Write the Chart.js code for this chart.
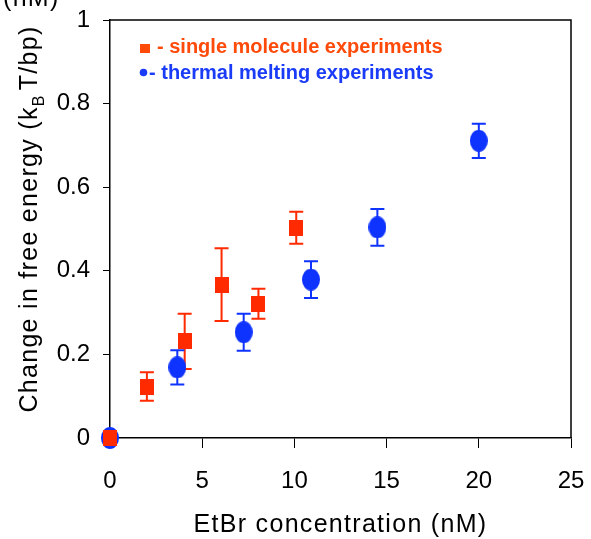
<!DOCTYPE html>
<html>
<head>
<meta charset="utf-8">
<script src="https://cdn.jsdelivr.net/npm/chart.js@4/dist/chart.umd.min.js"></script>
<style>
  html, body { margin: 0; padding: 0; background: #fff; }
  canvas { display: block; }
</style>
</head>
<body>
<canvas id="c" width="591" height="539"></canvas>
<script>
// ---- data ----
const singleX   = [0, 2.0, 4.05, 6.05, 8.05, 10.1];
const singleY   = [0, 0.123, 0.231, 0.367, 0.321, 0.503];
const singleErr = [0, 0.034, 0.066, 0.087, 0.036, 0.038];

const thermalX   = [0, 3.65, 7.25, 10.9, 14.5, 20.0];
const thermalY   = [0, 0.169, 0.253, 0.379, 0.504, 0.711];
const thermalErr = [0, 0.041, 0.044, 0.044, 0.044, 0.041];

const xTicks = [0, 5, 10, 15, 20, 25];
const yTicks = [0, 0.2, 0.4, 0.6, 0.8, 1];

const legendLabels = ['- single molecule experiments', '- thermal melting experiments'];
const xTitle = 'EtBr concentration (nM)';
const yTitleParts = ['Change in free energy (k', 'B', 'T/bp)'];

const RED = '#ff2a00';
const BLUE = '#0f33ff';

function markerImg(w, h, color, shape) {
  const c = document.createElement('canvas');
  c.width = w; c.height = h;
  const g = c.getContext('2d');
  g.fillStyle = color;
  if (shape === 'ellipse') {
    g.beginPath();
    g.ellipse(w / 2, h / 2, w / 2, h / 2, 0, 0, Math.PI * 2);
    g.fill();
  } else {
    g.fillRect(0, 0, w, h);
  }
  return c;
}

const toPts = (xs, ys) => xs.map((x, i) => ({ x: x, y: ys[i] }));
const errs = [singleErr, thermalErr];

const errorBarPlugin = {
  id: 'errorBars',
  beforeDatasetsDraw(chart) {
    const ctx = chart.ctx;
    const xs = chart.scales.x, ys = chart.scales.y;
    chart.data.datasets.forEach((ds, di) => {
      const e = errs[di];
      ctx.save();
      ctx.strokeStyle = ds.borderColor;
      ctx.lineWidth = 2;
      ds.data.forEach((p, i) => {
        if (!e[i]) return;
        const px = xs.getPixelForValue(p.x);
        const yt = ys.getPixelForValue(p.y + e[i]);
        const yb = ys.getPixelForValue(p.y - e[i]);
        const cw = 7;
        ctx.beginPath();
        ctx.moveTo(px, yt); ctx.lineTo(px, yb);
        ctx.moveTo(px - cw, yt); ctx.lineTo(px + cw, yt);
        ctx.moveTo(px - cw, yb); ctx.lineTo(px + cw, yb);
        ctx.stroke();
      });
      ctx.restore();
    });
  }
};

const boxPlugin = {
  id: 'box',
  beforeDatasetsDraw(chart) {
    const a = chart.chartArea, ctx = chart.ctx;
    ctx.save();
    ctx.strokeStyle = '#000';
    ctx.lineWidth = 1.5;
    ctx.beginPath();
    ctx.moveTo(a.left, a.top); ctx.lineTo(a.right, a.top); ctx.lineTo(a.right, a.bottom);
    ctx.stroke();
    ctx.restore();
  }
};

const textPlugin = {
  id: 'texts',
  afterDraw(chart) {
    const ctx = chart.ctx, a = chart.chartArea;
    ctx.save();
    ctx.fillStyle = '#000';
    ctx.textBaseline = 'alphabetic';
    // x title
    ctx.font = '25px "Liberation Sans", Arial, sans-serif';
    ctx.letterSpacing = '1.3px';
    ctx.textAlign = 'center';
    ctx.fillText(xTitle, (a.left + a.right) / 2, 532);
    // leftover "(nM)" at top-left
    ctx.textAlign = 'left';
    ctx.fillText('(nM)', 3, 6);
    // y title (rotated, with subscript)
    ctx.save();
    ctx.translate(37, 219);
    ctx.rotate(-Math.PI / 2);
    const big = '25px "Liberation Sans", Arial, sans-serif';
    const small = '16px "Liberation Sans", Arial, sans-serif';
    ctx.font = big;
    const w1 = ctx.measureText(yTitleParts[0]).width;
    const w3 = ctx.measureText(yTitleParts[2]).width;
    ctx.font = small;
    const w2 = ctx.measureText(yTitleParts[1]).width;
    let x0 = -(w1 + w2 + w3 + 4) / 2;
    ctx.font = big;
    ctx.fillText(yTitleParts[0], x0, 0);
    x0 += w1;
    ctx.font = small;
    ctx.fillText(yTitleParts[1], x0, 7);
    x0 += w2 + 4;
    ctx.font = big;
    ctx.fillText(yTitleParts[2], x0, 0);
    ctx.restore();
    // legend
    ctx.letterSpacing = '0px';
    ctx.font = 'bold 20px "Liberation Sans", Arial, sans-serif';
    ctx.fillStyle = '#ff4a0a';
    ctx.fillRect(140, 44, 10, 9);
    ctx.fillText(legendLabels[0], 157, 53);
    ctx.fillStyle = '#1a3cf8';
    ctx.beginPath();
    ctx.arc(143.5, 72.5, 3.8, 0, Math.PI * 2);
    ctx.fill();
    ctx.fillText(legendLabels[1], 149, 79);
    ctx.restore();
  }
};

const tickFont = { family: '"Liberation Sans", Arial, sans-serif', size: 24 };

new Chart(document.getElementById('c'), {
  type: 'scatter',
  data: {
    datasets: [
      {
        label: 'single molecule experiments',
        data: toPts(singleX, singleY),
        pointStyle: markerImg(14, 16, RED, 'rect'),
        backgroundColor: RED,
        borderColor: RED,
        clip: false
      },
      {
        label: 'thermal melting experiments',
        data: toPts(thermalX, thermalY),
        pointStyle: markerImg(18, 22, BLUE, 'ellipse'),
        backgroundColor: BLUE,
        borderColor: BLUE,
        clip: false
      }
    ]
  },
  options: {
    responsive: false,
    devicePixelRatio: 1,
    animation: false,
    events: [],
    layout: { padding: { top: 20, right: 20, left: 0, bottom: 0 } },
    plugins: { legend: { display: false }, tooltip: { enabled: false } },
    scales: {
      x: {
        type: 'linear',
        min: 0, max: 25,
        afterBuildTicks: s => { s.ticks = xTicks.map(v => ({ value: v })); },
        afterFit: s => { s.height = 101; s.paddingLeft = 0; s.paddingRight = 0; },
        ticks: { font: tickFont, color: '#000', padding: 19, maxRotation: 0 },
        grid: { drawOnChartArea: false, tickLength: 10, color: '#000', tickWidth: 1 },
        border: { color: '#000', width: 1.5 }
      },
      y: {
        type: 'linear',
        min: 0, max: 1,
        afterBuildTicks: s => { s.ticks = yTicks.map(v => ({ value: v })); },
        afterFit: s => { s.width = 110; s.paddingTop = 0; s.paddingBottom = 0; },
        ticks: { font: tickFont, color: '#000', padding: 13, callback: v => String(v) },
        grid: { drawOnChartArea: false, tickLength: 7, color: '#000', tickWidth: 1 },
        border: { color: '#000', width: 1.5 }
      }
    }
  },
  plugins: [errorBarPlugin, boxPlugin, textPlugin]
});
</script>
</body>
</html>
